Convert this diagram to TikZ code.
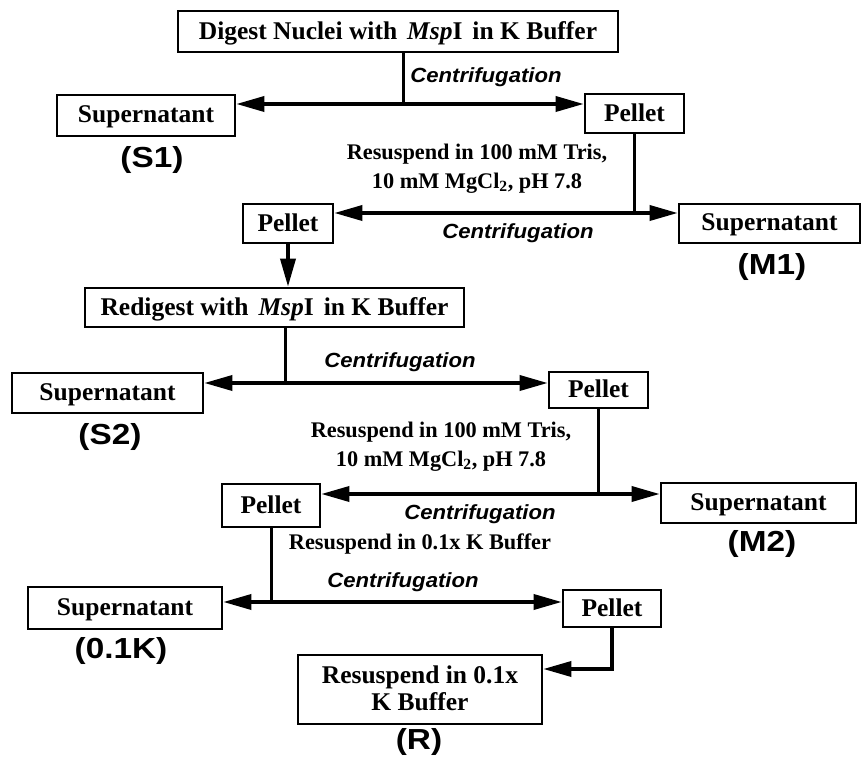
\documentclass[tikz,border=0pt]{standalone}
\usepackage{fontspec}
\setmainfont{Liberation Serif}
\newfontfamily\tagfont[FakeStretch=1.15]{Liberation Sans}
\newfontfamily\centfont[FakeStretch=1.08]{Liberation Sans}
\usepackage{tikz}
\usetikzlibrary{arrows.meta, positioning}

\begin{document}
\begin{tikzpicture}[x=1pt, y=-1pt,
  box/.style={draw, line width=2.6pt, inner sep=0pt, text depth=2pt, align=center, font=\bfseries\fontsize{25.5}{27}\selectfont},
  cent/.style={font=\centfont\bfseries\itshape\fontsize{20.5}{22}\selectfont},
  tag/.style={font=\tagfont\bfseries\fontsize{29}{31}\selectfont},
  note/.style={align=center, font=\bfseries\fontsize{22.3}{29}\selectfont},
  flow/.style={line width=3pt},
  arr/.style={line width=3.5pt, -{Triangle[length=28pt, width=15pt]}}]
\useasboundingbox (0,0) rectangle (863,759);

% first digest
\node[box, minimum width=440pt, minimum height=41pt] (dig) at (398,31.5) {Digest Nuclei with\hspace{10pt}\textit{Msp}I\hspace{10pt}in K Buffer};
\node[box, minimum width=178pt, minimum height=41pt] (s1) at (146,115.5) {Supernatant};
\node[box, minimum width=99pt, minimum height=39pt] (p1) at (634.5,113.5) {Pellet};
\node[tag] (t1) at (152,160) {(S1)};
\node[cent] (c1) at (486,77) {Centrifugation};
\coordinate (j1) at (403,104);
\draw[flow] (j1 |- dig.south) -- (j1);
\draw[arr] (j1) -- (j1 -| s1.east);
\draw[arr] (j1) -- (j1 -| p1.west);

% wash in Tris
\node[note] (n1) at (477,168.5) {Resuspend in 100 mM Tris,\\ 10 mM MgCl\textsubscript{2}, pH 7.8};
\node[box, minimum width=90pt, minimum height=39pt] (p2) at (288,223.5) {Pellet};
\node[box, minimum width=181pt, minimum height=39pt] (m1) at (769.5,223.5) {Supernatant};
\node[tag] (t2) at (772,267) {(M1)};
\node[cent] (c2) at (518,233) {Centrifugation};
\coordinate (j2) at (634.5,213);
\draw[flow] (p1.south) -- (j2);
\draw[arr] (j2) -- (j2 -| p2.east);
\draw[arr] (j2) -- (j2 -| m1.west);

% second digest
\node[box, minimum width=379pt, minimum height=39pt] (redig) at (274.5,307.5) {Redigest with\hspace{10pt}\textit{Msp}I\hspace{10pt}in K Buffer};
\draw[arr] (p2.south) -- (p2.south |- redig.north);
\node[box, minimum width=191pt, minimum height=40pt] (s2) at (107.5,393) {Supernatant};
\node[box, minimum width=99pt, minimum height=36pt] (p3) at (598.5,390) {Pellet};
\node[tag] (t3) at (110,437) {(S2)};
\node[cent] (c3) at (400,362) {Centrifugation};
\coordinate (j3) at (285,383);
\draw[flow] (j3 |- redig.south) -- (j3);
\draw[arr] (j3) -- (j3 -| s2.east);
\draw[arr] (j3) -- (j3 -| p3.west);

% wash in Tris again
\node[note] (n2) at (441,447) {Resuspend in 100 mM Tris,\\ 10 mM MgCl\textsubscript{2}, pH 7.8};
\node[box, minimum width=98pt, minimum height=43pt] (p4) at (271,505.5) {Pellet};
\node[box, minimum width=195pt, minimum height=40pt] (m2) at (758.5,503) {Supernatant};
\node[tag] (t4) at (762,544) {(M2)};
\node[cent] (c4) at (480,514) {Centrifugation};
\coordinate (j4) at (598.5,494);
\draw[flow] (p3.south) -- (j4);
\draw[arr] (j4) -- (j4 -| p4.east);
\draw[arr] (j4) -- (j4 -| m2.west);

% low salt step
\node[note] (n3) at (420,544) {Resuspend in 0.1x K Buffer};
\node[box, minimum width=194pt, minimum height=42pt] (s3) at (125,608) {Supernatant};
\node[box, minimum width=98pt, minimum height=37pt] (p5) at (612,608.5) {Pellet};
\node[tag] (t5) at (121,651) {(0.1K)};
\node[cent] (c5) at (403,582) {Centrifugation};
\coordinate (j5) at (271,602);
\draw[flow] (p4.south) -- (j5);
\draw[arr] (j5) -- (j5 -| s3.east);
\draw[arr] (j5) -- (j5 -| p5.west);

% residual
\node[box, minimum width=244pt, minimum height=69pt] (rb) at (420,689.5) {Resuspend in 0.1x\\ K Buffer};
\node[tag] (t6) at (419,742) {(R)};
\coordinate (e5) at (612,669);
\draw[arr] (p5.south) -- (e5) -- (e5 -| rb.east);
\end{tikzpicture}
\end{document}
